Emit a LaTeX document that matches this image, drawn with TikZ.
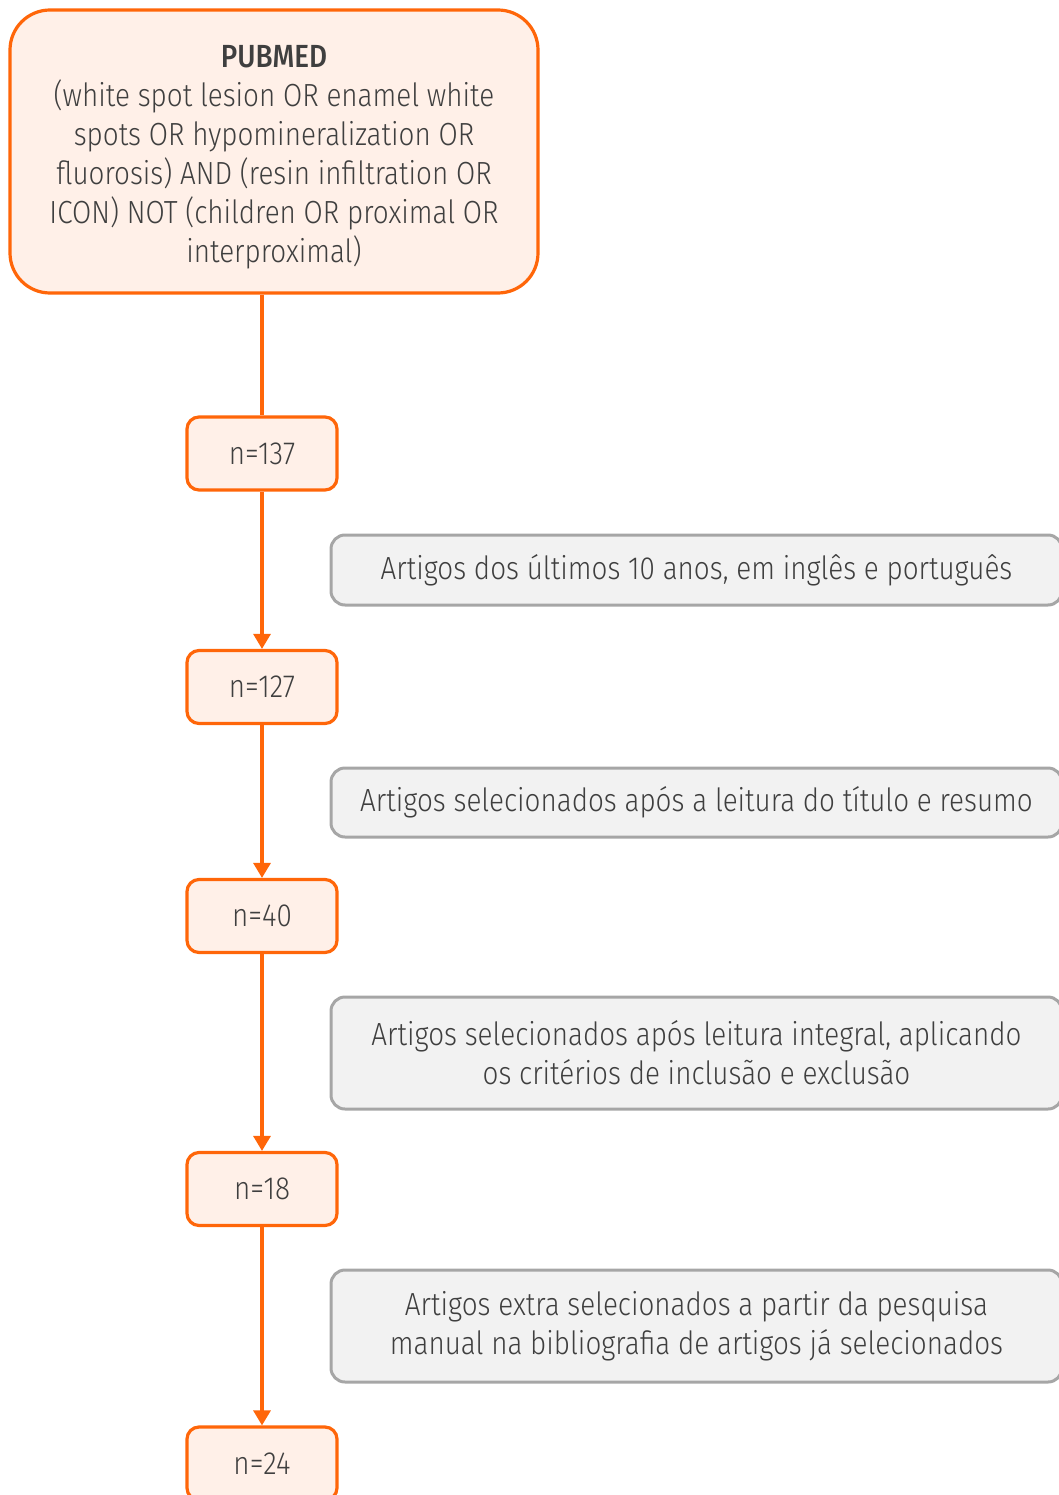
\documentclass[tikz,border=0pt]{standalone}
\usepackage{fontspec}
\setmainfont{Fira Sans}[UprightFont=* Light, BoldFont=* Medium, FakeStretch=0.87]
\usetikzlibrary{arrows.meta}
\definecolor{orng}{HTML}{FF6609}
\definecolor{orfill}{HTML}{FFF0E8}
\definecolor{grline}{HTML}{A6A6A6}
\definecolor{grfill}{HTML}{F2F2F2}
\definecolor{txt}{HTML}{3F3F3F}
\tikzset{
  nbox/.style={draw=orng, fill=orfill, line width=3.2pt, rounded corners=12pt,
    minimum width=150pt, minimum height=73pt, inner sep=0pt, text=txt,
    font=\fontsize{32}{39}\selectfont},
  gbox/.style={draw=grline, fill=grfill, line width=3pt, rounded corners=14pt,
    minimum width=731pt, inner sep=0pt, align=center, text=txt,
    font=\fontsize{32}{39}\selectfont},
  topbox/.style={draw=orng, fill=orfill, line width=3.2pt, rounded corners=40pt,
    minimum width=528pt, minimum height=283pt, inner sep=0pt},
  toptext/.style={inner sep=0pt, align=center, text=txt,
    font=\fontsize{32}{39}\selectfont},
  conn/.style={draw=orng, line width=3.2pt},
  arr/.style={conn, -{Triangle[width=17pt,length=15pt]}}
}
\begin{document}
\begin{tikzpicture}[x=1pt,y=-1pt]
\useasboundingbox (0,0) rectangle (1059,1495);
\clip (0,0) rectangle (1059,1495);
\node[topbox] (top) at (274,151.5) {};
\node[toptext, yshift=-6pt] (toptxt) at (top.center) {\textbf{PUBMED}\\(white spot lesion OR enamel white\\spots OR hypomineralization OR\\fluorosis) AND (resin infiltration OR\\ICON) NOT (children OR proximal OR\\interproximal)};
\node[nbox] (n137) at (262,453.5) {n=137};
\node[nbox] (n127) at (262,687) {n=127};
\node[nbox] (n40) at (262,916) {n=40};
\node[nbox] (n18) at (262,1189) {n=18};
\node[nbox] (n24) at (262,1463.5) {n=24};
\node[gbox, minimum height=70pt] (g1) at (696.5,570) {Artigos dos últimos 10 anos, em inglês e português};
\node[gbox, minimum height=69pt] (g2) at (696.5,802.5) {Artigos selecionados após a leitura do título e resumo};
\node[gbox, minimum height=112pt] (g3) at (696.5,1053) {Artigos selecionados após leitura integral, aplicando\\os critérios de inclusão e exclusão};
\node[gbox, minimum height=112pt] (g4) at (696.5,1326) {Artigos extra selecionados a partir da pesquisa\\manual na bibliografia de artigos já selecionados};
\draw[conn] (n137.north |- top.south) -- (n137.north);
\draw[arr] (n137) -- (n127);
\draw[arr] (n127) -- (n40);
\draw[arr] (n40) -- (n18);
\draw[arr] (n18) -- (n24);
\end{tikzpicture}
\end{document}
